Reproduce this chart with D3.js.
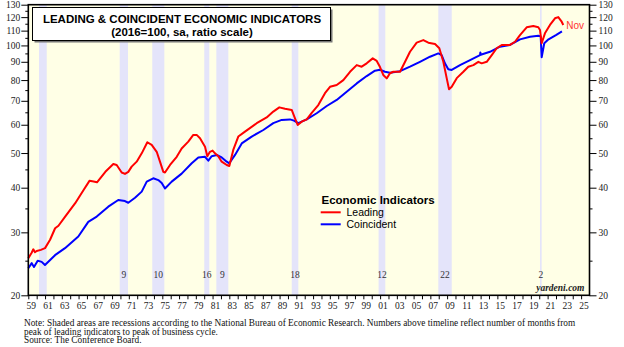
<!DOCTYPE html>
<html>
<head>
<meta charset="utf-8">
<script src="https://cdn.jsdelivr.net/npm/d3@7"></script>
<style>
  html, body { margin: 0; padding: 0; background: #ffffff; }
  svg { display: block; }
</style>
</head>
<body>
<svg id="chart" width="624" height="347"></svg>
<script>
// ---------------- DATA ----------------
const leadingSeries = [
  [1959.0,25.4],[1959.4,26.3],[1959.6,26.9],[1959.8,26.4],[1960.0,26.6],[1960.5,26.8],[1961.0,27.1],
  [1961.6,28.6],[1962.2,30.8],[1962.6,31.3],[1963.4,33.2],[1964.6,36.2],[1965.6,39.4],
  [1966.3,41.8],[1966.8,41.6],[1967.2,41.4],[1968.2,44.3],[1969.15,46.6],[1969.55,46.3],
  [1970.15,44.1],[1970.54,43.7],[1970.94,44.3],[1971.34,45.8],[1971.94,47.3],[1972.54,49.9],
  [1973.21,53.6],[1973.73,52.7],[1974.33,50.4],[1974.72,47.3],[1975.12,44.3],[1975.32,44.1],
  [1975.92,46.3],[1976.72,48.8],[1977.31,51.5],[1978.1,53.8],[1978.7,56.2],[1979.1,56.2],
  [1979.5,55.0],[1980.1,52.1],[1980.37,49.0],[1980.69,50.4],[1981.0,50.8],[1981.29,49.9],
  [1981.68,49.0],[1982.09,47.3],[1982.69,46.3],[1983.0,46.0],[1983.47,51.0],[1984.07,55.6],
  [1984.87,57.4],[1986.27,60.6],[1987.46,62.9],[1988.25,65.3],[1988.97,67.1],[1989.65,66.5],
  [1990.45,66.0],[1990.84,62.5],[1991.16,59.9],[1991.64,61.2],[1992.24,62.1],[1992.84,64.8],
  [1993.62,68.1],[1994.42,73.5],[1995.02,76.6],[1995.82,77.5],[1996.61,80.0],[1997.41,84.4],
  [1998.21,88.1],[1998.8,87.2],[1999.4,89.1],[2000.12,92.0],[2000.6,90.5],[2000.99,87.0],
  [2001.38,82.7],[2001.79,80.9],[2002.18,83.6],[2002.58,84.4],[2003.38,84.4],[2003.98,90.0],
  [2004.57,96.0],[2005.37,101.8],[2006.16,103.5],[2006.76,101.8],[2007.56,100.9],[2008.07,98.2],
  [2008.55,90.0],[2008.95,81.0],[2009.23,75.4],[2009.55,76.6],[2010.15,81.0],[2010.94,84.4],
  [2011.53,87.2],[2012.13,88.1],[2012.73,90.0],[2013.13,89.1],[2013.73,90.0],[2014.33,94.0],
  [2014.92,98.2],[2015.52,100.3],[2016.51,100.3],[2017.11,102.4],[2017.7,106.9],[2018.5,112.4],
  [2019.29,113.3],[2019.89,112.4],[2020.09,110.5],[2020.29,101.4],[2020.68,108.1],[2021.28,114.1],
  [2021.88,119.1],[2022.27,120.0],[2022.68,116.5],[2022.87,114.1]
];

const coincidentSeries = [
  [1959.0,23.8],[1959.41,24.6],[1959.68,24.0],[1960.12,25.0],[1960.6,24.8],[1960.99,24.3],
  [1962.19,25.9],[1963.38,27.1],[1964.97,29.2],[1966.16,32.1],[1967.17,33.2],[1968.55,35.4],
  [1969.74,36.96],[1970.54,36.7],[1970.94,36.3],[1971.74,37.5],[1972.54,39.0],[1973.14,41.6],
  [1973.92,42.5],[1974.52,42.0],[1974.93,41.2],[1975.32,39.8],[1976.12,41.6],[1977.31,43.8],
  [1978.51,46.8],[1979.3,48.6],[1980.1,48.8],[1980.49,47.6],[1980.9,49.0],[1981.49,49.4],
  [1982.09,48.6],[1982.69,47.3],[1983.0,46.8],[1983.68,49.4],[1984.48,53.2],[1985.67,55.6],
  [1987.06,58.0],[1988.25,60.6],[1989.25,61.9],[1990.24,62.1],[1990.72,61.6],[1991.23,60.6],
  [1992.24,62.1],[1993.43,64.6],[1994.63,67.7],[1995.82,70.4],[1997.01,74.2],[1998.21,78.3],
  [1999.4,82.1],[2000.39,85.0],[2000.99,85.5],[2001.58,84.4],[2002.18,83.9],[2003.38,84.7],
  [2004.57,87.2],[2005.76,90.0],[2006.96,93.0],[2007.95,95.0],[2008.35,94.0],[2008.74,89.1],
  [2009.14,85.8],[2009.55,85.4],[2010.54,88.1],[2011.74,91.0],[2012.93,94.0],[2012.97,95.6],
  [2013.02,94.2],[2014.12,96.0],[2015.31,99.2],[2016.51,100.3],[2017.7,104.0],[2018.9,105.8],
  [2019.89,106.4],[2020.17,106.0],[2020.29,92.7],[2020.6,101.4],[2021.11,104.0],[2021.99,106.9],
  [2022.71,109.5]
];

const recessions = [
  [1960.28,1961.2],[1969.91,1970.9],[1973.8,1975.24],[1980.01,1980.61],[1981.45,1982.88],
  [1990.45,1991.24],[2000.82,2001.62],[2007.95,2009.55],[2020.09,2020.29]
];
const recessionLabels = ["", "9", "10", "16", "9", "18", "12", "22", "2"];

const yMajorTicks = [20,30,40,50,60,70,80,90,100,110,120,130];
const yMinorTicks = [25,35,45,55,65,75,85,95,105,115,125];
const xTickYears = d3.range(1959, 2026);

const titleLines = ["LEADING & COINCIDENT ECONOMIC INDICATORS", "(2016=100, sa, ratio scale)"];
const legendTitle = "Economic Indicators";
const legendItems = [["Leading","#ff0000"],["Coincident","#0000ff"]];
const noteLines = [
  "Note: Shaded areas are recessions according to the National Bureau of Economic Research. Numbers above timeline reflect number of months from",
  "peak of leading indicators to peak of business cycle.",
  "Source: The Conference Board."
];

// ---------------- DRAW ----------------
const svg = d3.select("#chart");
const L = 28.3, R = 589.5, T = 4.7, B = 295.3;
const serif = "'Liberation Serif','Times New Roman',serif";
const sans = "'Liberation Sans',Arial,sans-serif";

const x = d3.scaleLinear().domain([1959, 2026]).range([L, R]);
const y = d3.scaleLog().domain([20, 130]).range([B, T]);

svg.append("rect").attr("x", L).attr("y", T).attr("width", R - L).attr("height", B - T)
  .attr("fill", "#ffffe6");

svg.append("g").selectAll("rect").data(recessions).join("rect")
  .attr("x", d => x(d[0])).attr("y", T)
  .attr("width", d => Math.max(1.2, x(d[1]) - x(d[0]))).attr("height", B - T)
  .attr("fill", "#e4e4fa");

svg.append("g").selectAll("text").data(recessions).join("text")
  .attr("x", d => (x(d[0]) + x(d[1])) / 2).attr("y", 278)
  .attr("text-anchor", "middle").attr("font-family", serif).attr("font-size", 9.5)
  .attr("fill", "#333").text((d, i) => recessionLabels[i]);

const line = d3.line().x(d => x(d[0])).y(d => y(d[1]));
svg.append("path").datum(coincidentSeries).attr("d", line)
  .attr("fill", "none").attr("stroke", "#0000ff").attr("stroke-width", 2).attr("stroke-linejoin", "round");
svg.append("path").datum(leadingSeries).attr("d", line)
  .attr("fill", "none").attr("stroke", "#ff0000").attr("stroke-width", 2).attr("stroke-linejoin", "round");

// frame
svg.append("rect").attr("x", L).attr("y", T).attr("width", R - L).attr("height", B - T)
  .attr("fill", "none").attr("stroke", "#000").attr("stroke-width", 1.6);

function styleAxis(g) {
  g.select(".domain").remove();
  g.selectAll("line").attr("stroke", "#000");
  g.selectAll("text").attr("font-family", serif).attr("font-size", 9.5).attr("fill", "#222");
}

// Y axes
svg.append("g").attr("transform", `translate(${L},0)`)
  .call(d3.axisLeft(y).tickValues(yMajorTicks).tickSize(7).tickPadding(1).tickFormat(d3.format("d")))
  .call(styleAxis);
svg.append("g").attr("transform", `translate(${L},0)`)
  .call(d3.axisLeft(y).tickValues(yMinorTicks).tickSize(3).tickFormat(""))
  .call(styleAxis);
svg.append("g").attr("transform", `translate(${R},0)`)
  .call(d3.axisRight(y).tickValues(yMajorTicks).tickSize(7).tickPadding(2).tickFormat(d3.format("d")))
  .call(styleAxis);
svg.append("g").attr("transform", `translate(${R},0)`)
  .call(d3.axisRight(y).tickValues(yMinorTicks).tickSize(3).tickFormat(""))
  .call(styleAxis);

// X axis
const xg = svg.append("g").attr("transform", `translate(0,${B})`)
  .call(d3.axisBottom(x).tickValues(xTickYears).tickSize(4).tickPadding(3)
    .tickFormat(d => d % 2 === 1 ? String(d).slice(2) : ""))
  .call(styleAxis);
xg.selectAll("text").attr("dx", 2.5);

// Title box
svg.append("rect").attr("x", 34.5).attr("y", 9.5).attr("width", 298).attr("height", 33)
  .attr("fill", "#777");
svg.append("rect").attr("x", 32.5).attr("y", 7.5).attr("width", 298).attr("height", 33)
  .attr("fill", "#fff").attr("stroke", "#000").attr("stroke-width", 1);
svg.append("g").selectAll("text").data(titleLines).join("text")
  .attr("x", 182).attr("y", (d, i) => 23 + i * 12.7)
  .attr("text-anchor", "middle").attr("font-family", sans).attr("font-weight", "bold")
  .attr("font-size", 11.5).attr("fill", "#000").text(d => d);

// Legend
svg.append("text").attr("x", 321.5).attr("y", 204).attr("font-family", sans)
  .attr("font-weight", "bold").attr("font-size", 11.5).attr("fill", "#000").text(legendTitle);
const lg = svg.append("g").selectAll("g").data(legendItems).join("g")
  .attr("transform", (d, i) => `translate(0,${212.3 + i * 12})`);
lg.append("line").attr("x1", 320.7).attr("x2", 340.7).attr("y1", 0).attr("y2", 0)
  .attr("stroke", d => d[1]).attr("stroke-width", 2);
lg.append("text").attr("x", 346.5).attr("y", 3.8).attr("font-family", sans)
  .attr("font-size", 10.5).attr("fill", "#000").text(d => d[0]);

// Nov label
const lastLead = leadingSeries[leadingSeries.length - 1];
svg.append("text").attr("x", x(lastLead[0]) + 3).attr("y", y(lastLead[1]) + 4)
  .attr("font-family", sans).attr("font-size", 10).attr("fill", "#ff3333").text("Nov");

// yardeni.com
svg.append("text").attr("x", 584.5).attr("y", 291).attr("text-anchor", "end")
  .attr("font-family", serif).attr("font-weight", "bold").attr("font-style", "italic")
  .attr("font-size", 9.5).attr("fill", "#222").text("yardeni.com");

// Notes
svg.append("g").selectAll("text").data(noteLines).join("text")
  .attr("x", 24).attr("y", (d, i) => 326 + i * 8.7)
  .attr("font-family", serif).attr("font-size", 9.3).attr("fill", "#111").text(d => d);
</script>
</body>
</html>
